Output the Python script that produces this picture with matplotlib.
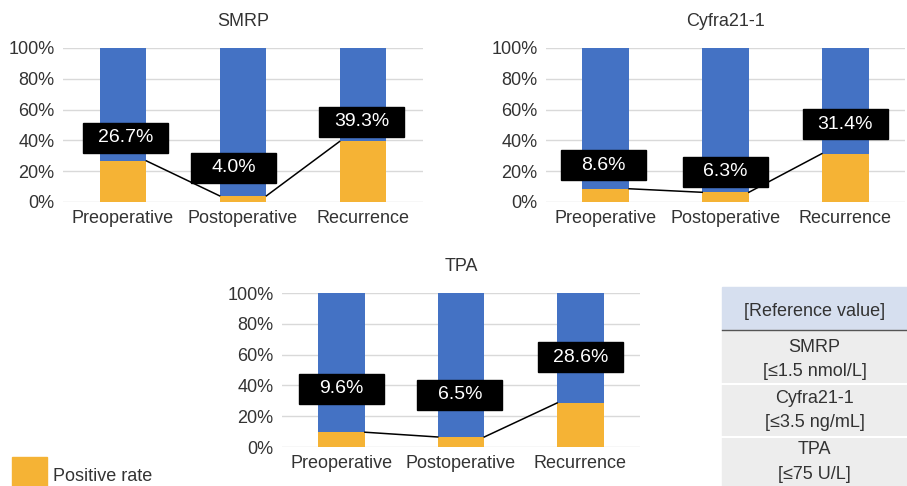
import numpy as np
import matplotlib as mpl
mpl.use('Agg')
import matplotlib.pyplot as plt
from matplotlib.patches import Rectangle

mpl.rcParams['font.family'] = ['Liberation Sans', 'DejaVu Sans']

# data
stages = ['Preoperative', 'Postoperative', 'Recurrence']
smrp = [26.7, 4.0, 39.3]
cyfra = [8.6, 6.3, 31.4]
tpa = [9.6, 6.5, 28.6]
titles = ['SMRP', 'Cyfra21-1', 'TPA']
ref_head = '[Reference value]'
ref_rows = [('SMRP', '[\u22641.5 nmol/L]'),
            ('Cyfra21-1', '[\u22643.5 ng/mL]'),
            ('TPA', '[\u226475 U/L]')]
legend_label = 'Positive rate'

BLUE = '#4472C4'
ORANGE = '#F5B335'
TXT = '#333333'
GRID = '#d9d9d9'

W, H = 907, 486
fig = plt.figure(figsize=(W / 100, H / 100), dpi=100)

def px_axes(left, top, right, bottom):
    return fig.add_axes([left / W, 1 - bottom / H, (right - left) / W, (bottom - top) / H])

# axes placement (pixels) and label box centres (data coords)
panels = [
    (smrp, titles[0], (63, 48, 423, 202), [(0.02, 41.6), (0.92, 22.1), (1.99, 52.0)]),
    (cyfra, titles[1], (546, 48, 905, 202), [(-0.02, 24.0), (1.0, 19.5), (2.0, 50.6)]),
    (tpa, titles[2], (282, 293, 640, 447), [(0.0, 37.7), (0.99, 33.8), (2.0, 58.4)]),
]

bw = 0.39
for vals, title, box, lab_pos in panels:
    ax = px_axes(*box)
    x = np.arange(len(stages))
    ax.bar(x, vals, bw, color=ORANGE, zorder=2)
    ax.bar(x, 100 - np.array(vals), bw, bottom=vals, color=BLUE, zorder=2)
    # series lines between bars
    for i in range(len(vals) - 1):
        ax.plot([x[i] + bw / 2, x[i + 1] - bw / 2], [vals[i], vals[i + 1]],
                color='black', lw=1.1, zorder=3)
    for v, (lx, ly) in zip(vals, lab_pos):
        ax.add_patch(Rectangle((lx - 0.355, ly - 9.8), 0.71, 19.6, color='black',
                               zorder=5, clip_on=False))
        ax.text(lx, ly, '%.1f%%' % v, color='white', fontsize=14, ha='center',
                va='center', zorder=6)
    ax.set_xlim(-0.5, 2.5)
    ax.set_ylim(0, 100)
    ax.set_yticks(np.arange(0, 101, 20))
    ax.set_yticklabels(['%d%%' % t for t in range(0, 101, 20)])
    ax.set_xticks(x)
    ax.set_xticklabels(stages)
    ax.tick_params(length=0, labelsize=13, labelcolor=TXT, pad=6)
    ax.yaxis.grid(True, color=GRID, lw=1, zorder=0)
    ax.set_axisbelow(True)
    for s in ax.spines.values():
        s.set_visible(False)
    ax.set_title(title, fontsize=13, color=TXT, pad=16)

# legend
fig.patches.append(Rectangle((12 / W, 0), 35 / W, 29 / H, color=ORANGE,
                             transform=fig.transFigure, figure=fig))
fig.text(53 / W, 1 - 476 / H, legend_label, fontsize=13, color=TXT, va='center')

# reference table
tl, tr = 722, 907
fig.patches.append(Rectangle((tl / W, 1 - 330 / H), (tr - tl) / W, 43 / H, color='#D6DFEF',
                             transform=fig.transFigure, figure=fig))
fig.patches.append(Rectangle((tl / W, 0), (tr - tl) / W, 1 - 330 / H, color='#EDEDED',
                             transform=fig.transFigure, figure=fig))
fig.add_artist(plt.Line2D([tl / W, tr / W], [1 - 330 / H] * 2, color='#555555', lw=1,
                          transform=fig.transFigure))
for yy in (384, 437):
    fig.add_artist(plt.Line2D([tl / W, tr / W], [1 - yy / H] * 2, color='white', lw=1.5,
                              transform=fig.transFigure))
cx = (tl + tr) / 2 / W
fig.text(cx, 1 - 311 / H, ref_head, fontsize=13, color=TXT, ha='center', va='center')
row_y = [(347, 371), (398, 422), (449, 474)]
for (name, rng), (y1, y2) in zip(ref_rows, row_y):
    fig.text(cx, 1 - y1 / H, name, fontsize=13, color=TXT, ha='center', va='center')
    fig.text(cx, 1 - y2 / H, rng, fontsize=13, color=TXT, ha='center', va='center')

fig.savefig('out.png', dpi=100)
